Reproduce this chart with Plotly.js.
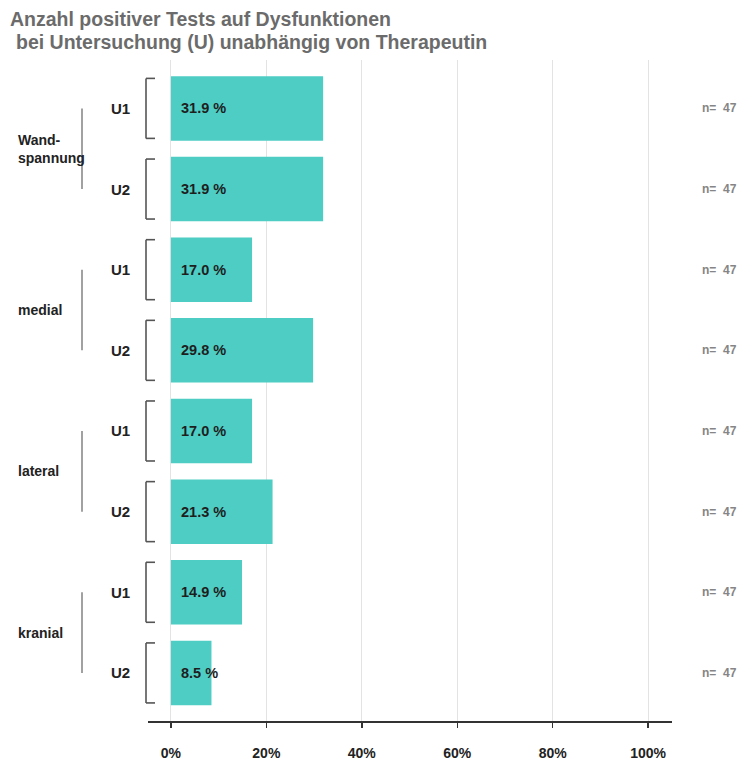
<!DOCTYPE html>
<html>
<head>
<meta charset="utf-8">
<script src="https://cdn.plot.ly/plotly-3.0.1.min.js"></script>
<style>html,body{margin:0;padding:0;background:#fff;}#chart{width:741px;height:760px;}</style>
</head>
<body>
<div id="chart"></div>
<script>
// ---- data ----
const groups = ["Wand-<br>spannung", "medial", "lateral", "kranial"];
const visits = ["U1", "U2", "U1", "U2", "U1", "U2", "U1", "U2"];
const values = [31.9, 31.9, 17.0, 29.8, 17.0, 21.3, 14.9, 8.5];
const nLabels = ["n=\u00a0\u00a047", "n=\u00a0\u00a047", "n=\u00a0\u00a047", "n=\u00a0\u00a047", "n=\u00a0\u00a047", "n=\u00a0\u00a047", "n=\u00a0\u00a047", "n=\u00a0\u00a047"];
const xTickVals = [0, 20, 40, 60, 80, 100];
const xTickText = ["0%", "20%", "40%", "60%", "80%", "100%"];

// ---- layout geometry ----
const W = 741, H = 760;
const M = {l: 148, r: 69, t: 60, b: 39};
const plotW = W - M.l - M.r, plotH = H - M.t - M.b;
const px2x = px => (px - M.l) / plotW;   // pixel -> paper x
const py2y = py => (H - M.b - py) / plotH; // pixel -> paper y

const font = '"Liberation Sans", Arial, Helvetica, sans-serif';
const idx = values.map((v, i) => i);

const trace = {
  type: 'bar',
  orientation: 'h',
  x: values,
  y: idx,
  width: 0.8,
  marker: {color: '#4ecdc4', line: {width: 0}},
  hoverinfo: 'skip'
};

const annotations = [];
const shapes = [];

// Title
annotations.push({xref: 'paper', yref: 'paper', x: px2x(8), y: py2y(19), xanchor: 'left', yanchor: 'middle',
  text: '<b>Anzahl positiver Tests auf Dysfunktionen</b>', showarrow: false,
  font: {family: font, size: 19.5, color: '#6b6b6b'}});
annotations.push({xref: 'paper', yref: 'paper', x: px2x(14), y: py2y(42), xanchor: 'left', yanchor: 'middle',
  text: '<b>bei Untersuchung (U) unabhängig von Therapeutin</b>', showarrow: false,
  font: {family: font, size: 19.5, color: '#6b6b6b'}});

idx.forEach(i => {
  // value labels inside bars
  annotations.push({xref: 'x', yref: 'y', x: 0, y: i, xanchor: 'left', yanchor: 'middle', xshift: 8,
    text: '<b>' + values[i].toFixed(1) + ' %</b>', showarrow: false,
    font: {family: font, size: 14.5, color: '#1e1e1e'}});
  // U labels
  annotations.push({xref: 'paper', yref: 'y', x: px2x(132), y: i, xanchor: 'right', yanchor: 'middle',
    text: '<b>' + visits[i] + '</b>', showarrow: false,
    font: {family: font, size: 15, color: '#222'}});
  // n labels
  annotations.push({xref: 'paper', yref: 'y', x: px2x(739), y: i, xanchor: 'right', yanchor: 'middle',
    text: '<b>' + nLabels[i] + '</b>', showarrow: false,
    font: {family: font, size: 12, color: '#858585'}});
});

// brackets around each bar's row label
idx.forEach(i => {
  const xa = px2x(155), xb = px2x(146);
  const h = 0.372;
  const seg = (x0, y0, x1, y1) => ({type: 'line', xref: 'paper', yref: 'y', x0, y0, x1, y1,
    line: {color: '#555', width: 1.6}});
  shapes.push(seg(xa, i - h, xb, i - h));
  shapes.push(seg(xb, i - h, xb, i + h));
  shapes.push(seg(xb, i + h, xa, i + h));
});

groups.forEach((g, k) => {
  const i0 = 2 * k, i1 = 2 * k + 1;
  annotations.push({xref: 'paper', yref: 'y', x: px2x(16), y: (i0 + i1) / 2, xanchor: 'left', yanchor: 'middle',
    align: 'left', text: '<b>' + g + '</b>', showarrow: false,
    font: {family: font, size: 14, color: '#222'}});
  shapes.push({type: 'line', xref: 'paper', yref: 'y', x0: px2x(82), x1: px2x(82), y0: i0, y1: i1,
    line: {color: '#8a8a8a', width: 1.6}});
});

const layout = {
  width: W, height: H,
  margin: M,
  paper_bgcolor: '#fff', plot_bgcolor: '#fff',
  showlegend: false,
  bargap: 0.2,
  xaxis: {
    range: [-4.8, 105],
    tickvals: xTickVals, ticktext: xTickText,
    showgrid: true, gridcolor: '#e3e3e3', gridwidth: 1,
    zeroline: false,
    showline: true, linecolor: '#333', linewidth: 2,
    ticks: 'outside', ticklen: 5, tickcolor: '#333', tickwidth: 1.5,
    ticklabelstandoff: 13,
    tickfont: {family: font, size: 14, color: '#222', weight: 'bold'},
    fixedrange: true
  },
  yaxis: {
    range: [7.596, -0.60],
    showgrid: false, zeroline: false, showline: false, showticklabels: false, ticks: '',
    fixedrange: true
  },
  annotations: annotations,
  shapes: shapes
};

Plotly.newPlot('chart', [trace], layout, {displayModeBar: false, staticPlot: true});
</script>
</body>
</html>
